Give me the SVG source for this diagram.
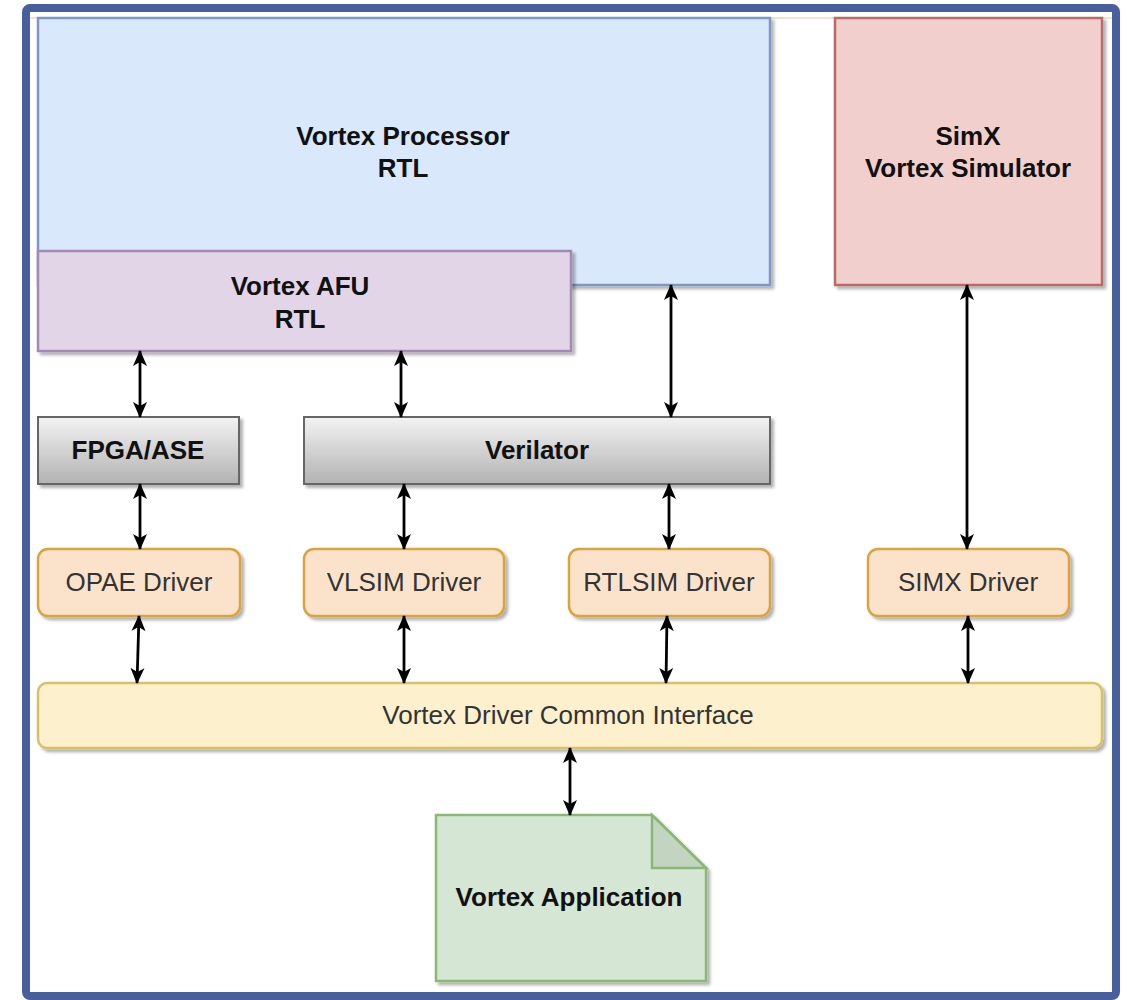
<svg xmlns="http://www.w3.org/2000/svg" width="1125" height="1000" viewBox="0 0 1125 1000">
<defs>
<style>
.t{font-family:"Liberation Sans",Arial,sans-serif;text-anchor:middle;}
.b{font-weight:bold;font-size:26px;fill:#111;}
.n{font-size:26px;fill:#333;}
.con line{stroke:#000;stroke-width:2.8;marker-start:url(#ah);marker-end:url(#ah);}
.drv{fill:#fbe3cb;stroke:#d9a440;stroke-width:2.5;}
.gray{fill:url(#gg);stroke:#666;stroke-width:2;}
</style>
<linearGradient id="gg" x1="0" y1="0" x2="0" y2="1">
<stop offset="0" stop-color="#f3f3f3"/>
<stop offset="1" stop-color="#b2b2b2"/>
</linearGradient>
<filter id="sh" x="-5%" y="-5%" width="115%" height="120%">
<feDropShadow dx="3" dy="3" stdDeviation="1.5" flood-color="#000" flood-opacity="0.3"/>
</filter>
<marker id="ah" viewBox="0 0 16 16" markerWidth="16" markerHeight="16" refX="15" refY="8" orient="auto-start-reverse" markerUnits="userSpaceOnUse">
<path d="M0,1 L16,8 L0,15 L4,8 z" fill="#000"/>
</marker>
</defs>
<rect x="0" y="0" width="1125" height="1000" fill="#fff"/>
<rect id="frame" x="26" y="8" width="1090" height="988" rx="4" fill="#fff" stroke="#475f9d" stroke-width="8"/>
<line x1="30" y1="18" x2="1112" y2="18" stroke="#e6dcc4" stroke-width="1.5"/>

<g id="processor">
<rect x="38" y="18" width="732" height="267" fill="#dae8fc" stroke="#7d97c7" stroke-width="2.5" filter="url(#sh)"/>
<text class="t b" x="403" y="145">Vortex Processor</text>
<text class="t b" x="403" y="177">RTL</text>
</g>
<g id="afu">
<rect x="38" y="251" width="533" height="100" fill="#e1d5e7" stroke="#a48ab2" stroke-width="2.5" filter="url(#sh)"/>
<text class="t b" x="300" y="295">Vortex AFU</text>
<text class="t b" x="300" y="328">RTL</text>
</g>
<g id="simx">
<rect x="835" y="18" width="267" height="267" fill="#f1cfcd" stroke="#b86b68" stroke-width="2.5" filter="url(#sh)"/>
<text class="t b" x="968" y="145">SimX</text>
<text class="t b" x="968" y="177">Vortex Simulator</text>
</g>
<g id="fpga">
<rect class="gray" x="38" y="417" width="201" height="67" filter="url(#sh)"/>
<text class="t b" x="138" y="459">FPGA/ASE</text>
</g>
<g id="verilator">
<rect class="gray" x="304" y="417" width="466" height="67" filter="url(#sh)"/>
<text class="t b" x="537" y="459">Verilator</text>
</g>
<g id="opae">
<rect class="drv" x="38" y="549" width="202" height="67" rx="10" filter="url(#sh)"/>
<text class="t n" x="139" y="591">OPAE Driver</text>
</g>
<g id="vlsim">
<rect class="drv" x="304" y="549" width="200" height="67" rx="10" filter="url(#sh)"/>
<text class="t n" x="404" y="591">VLSIM Driver</text>
</g>
<g id="rtlsim">
<rect class="drv" x="569" y="549" width="201" height="67" rx="10" filter="url(#sh)"/>
<text class="t n" x="669" y="591">RTLSIM Driver</text>
</g>
<g id="simxdrv">
<rect class="drv" x="868" y="549" width="201" height="67" rx="10" filter="url(#sh)"/>
<text class="t n" x="968" y="591">SIMX Driver</text>
</g>
<g id="common">
<rect x="38" y="683" width="1064" height="65" rx="9" fill="#fcf0cd" stroke="#d9bf6a" stroke-width="2.5" filter="url(#sh)"/>
<text class="t n" x="568" y="724">Vortex Driver Common Interface</text>
</g>
<g id="app">
<path d="M436,815 L652,815 L706,868 L706,981 L436,981 Z" fill="#d6e6d4" stroke="#8ab874" stroke-width="2.5" filter="url(#sh)"/>
<path d="M652,815 L652,868 L706,868 Z" fill="#c3d5c1" stroke="#8ab874" stroke-width="2.5"/>
<text class="t b" x="569" y="906">Vortex Application</text>
</g>

<g id="connectors" class="con">
<line x1="140" y1="351" x2="140" y2="417"/>
<line x1="401" y1="351" x2="401" y2="417"/>
<line x1="671" y1="285" x2="671" y2="417"/>
<line x1="967" y1="285" x2="967" y2="549"/>
<line x1="140" y1="484" x2="140" y2="549"/>
<line x1="404" y1="484" x2="404" y2="549"/>
<line x1="669" y1="484" x2="669" y2="549"/>
<line x1="139" y1="616" x2="137" y2="683"/>
<line x1="404" y1="616" x2="404" y2="683"/>
<line x1="667" y1="616" x2="666" y2="683"/>
<line x1="968" y1="616" x2="968" y2="683"/>
<line x1="570" y1="748" x2="570" y2="815"/>
</g>
</svg>
